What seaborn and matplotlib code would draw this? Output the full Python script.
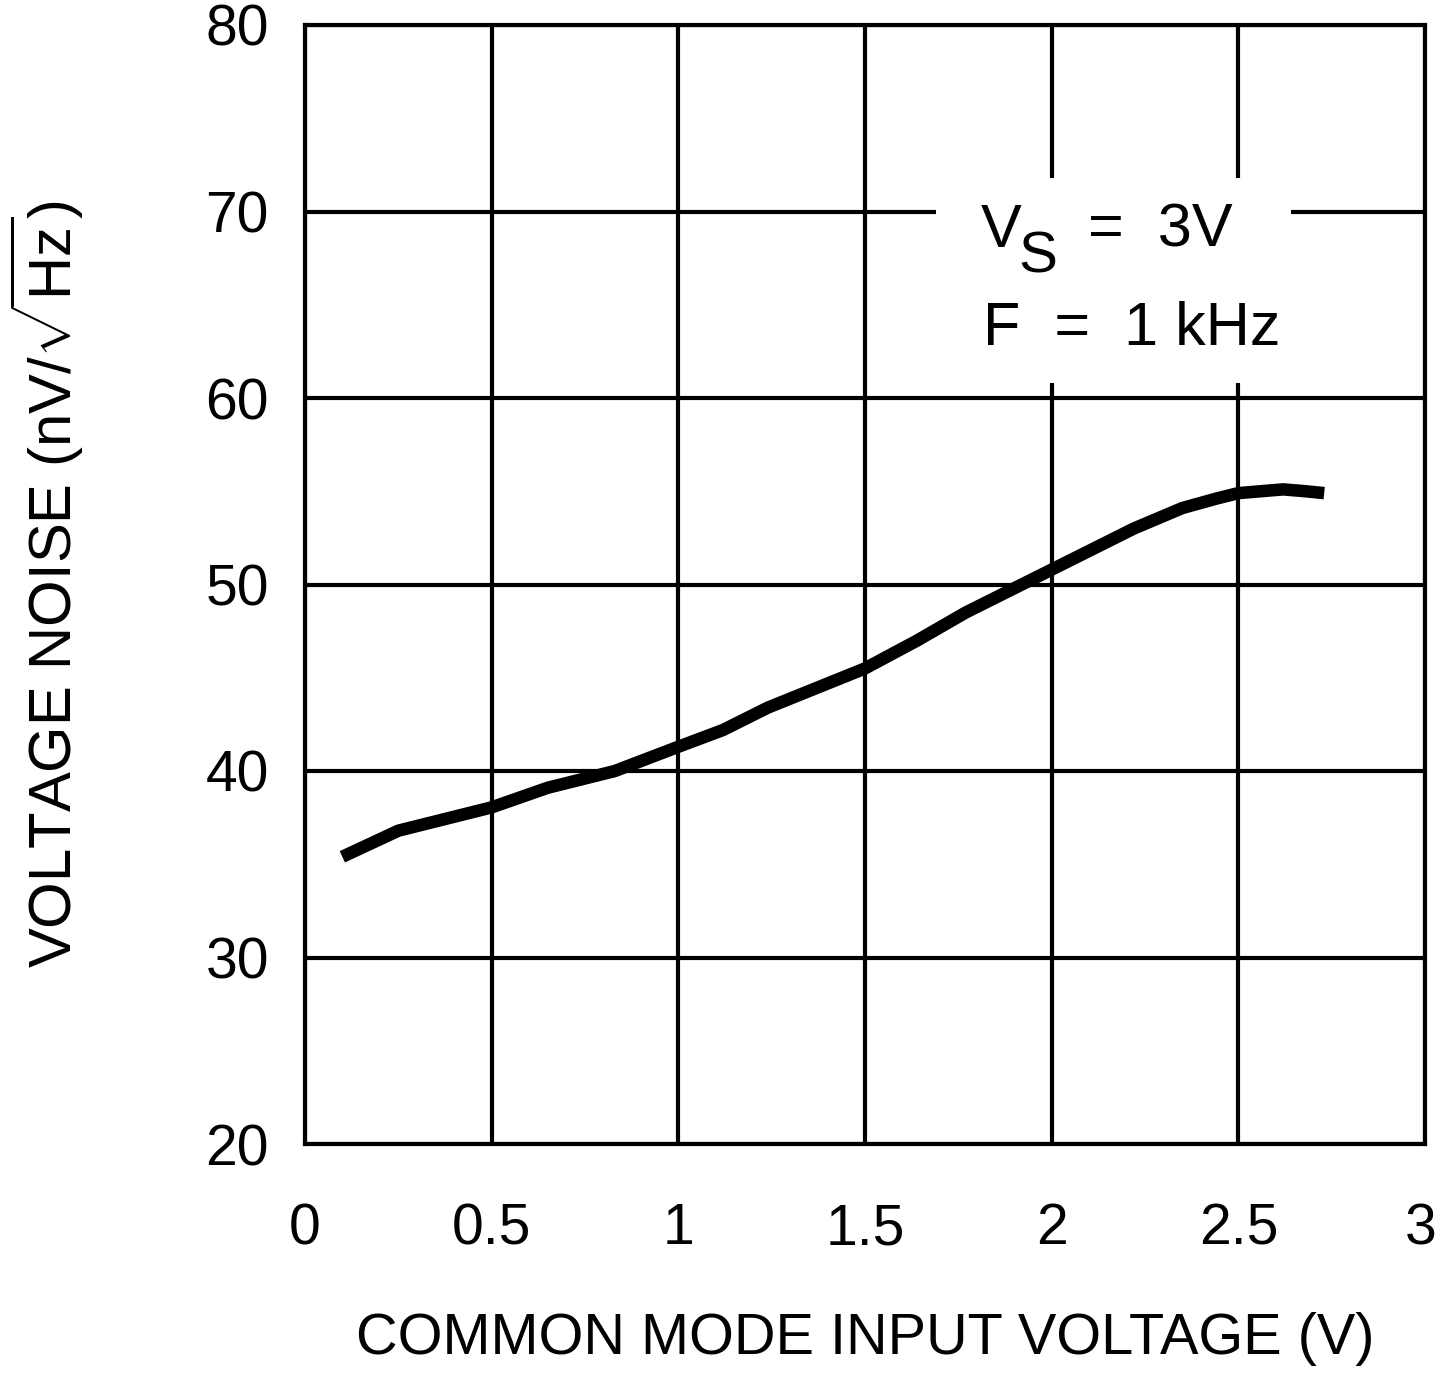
import matplotlib
matplotlib.use("Agg")
import matplotlib.pyplot as plt
import matplotlib.transforms as mtransforms
import seaborn as sns
import pandas as pd
from matplotlib.patches import Rectangle

# Data
vcm = [0.10, 0.25, 0.37, 0.50, 0.65, 0.83, 1.00, 1.12, 1.24, 1.50, 1.64, 1.77,
       1.91, 2.00, 2.22, 2.35, 2.44, 2.50, 2.62, 2.68, 2.73]
noise = [35.4, 36.8, 37.4, 38.05, 39.1, 40.0, 41.3, 42.2, 43.4, 45.5, 47.0, 48.5,
         49.9, 50.8, 53.0, 54.1, 54.6, 54.9, 55.1, 55.0, 54.9]
xticks = [0, 0.5, 1, 1.5, 2, 2.5, 3]
xticklabels = ["0", "0.5", "1", "1.5", "2", "2.5", "3"]
yticks = [20, 30, 40, 50, 60, 70, 80]

sns.set_theme(style="white")
plt.rcParams["font.family"] = ["Liberation Sans", "DejaVu Sans"]
plt.rcParams["mathtext.fontset"] = "custom"
plt.rcParams["mathtext.rm"] = "Liberation Sans"

fig = plt.figure(figsize=(14.39, 13.75), dpi=100)
ax = fig.add_axes([305/1439, 1 - 1144/1375, 1120/1439, 1119/1375])

df = pd.DataFrame({"vcm": vcm, "noise": noise})
sns.lineplot(data=df, x="vcm", y="noise", ax=ax, color="black", linewidth=9,
             solid_capstyle="butt", solid_joinstyle="round", zorder=5)

ax.set_xlim(0, 3)
ax.set_ylim(20, 80)
ax.set_xticks(xticks)
ax.set_xticklabels(xticklabels)
ax.set_yticks(yticks)
ax.grid(True, color="black", linewidth=3)
for s in ax.spines.values():
    s.set_color("black")
    s.set_linewidth(3)
ax.tick_params(axis="both", which="both", length=0, labelsize=41, colors="black")
ax.tick_params(axis="x", pad=42)
ax.tick_params(axis="y", pad=26)

# keep the last x tick label inside the canvas, as in the reference
last = ax.get_xticklabels()[-1]
last.set_transform(last.get_transform() + mtransforms.ScaledTranslation(-4/100, 0, fig.dpi_scale_trans))

ax.set_xlabel("COMMON MODE INPUT VOLTAGE (V)", fontsize=41.5, color="black")
ax.xaxis.set_label_coords(0.5, -(1366 - 1144) / 1119)
ax.xaxis.label.set_va("bottom")
ax.set_ylabel(r"VOLTAGE NOISE (nV/$\sqrt{\mathrm{Hz}}$)", fontsize=43, color="black")
ax.yaxis.set_label_coords(-(305 - 86) / 1120, 0.5)

# annotation box (white background hiding the grid)
ax.add_patch(Rectangle((1.69, 60.8), 0.95, 11.0, facecolor="white", edgecolor="none", zorder=4))
ax.text(1.81, 68.1, "V", fontsize=44, ha="left", va="baseline", color="black", zorder=6)
ax.text(1.91, 66.75, "S", fontsize=42, ha="left", va="baseline", color="black", zorder=6)
ax.text(2.097, 68.1, "=  3V", fontsize=44, ha="left", va="baseline", color="black", zorder=6)
ax.text(1.816, 62.84, "F  =  1 kHz", fontsize=44, ha="left", va="baseline", color="black", zorder=6)

fig.savefig("out.png", dpi=100)
